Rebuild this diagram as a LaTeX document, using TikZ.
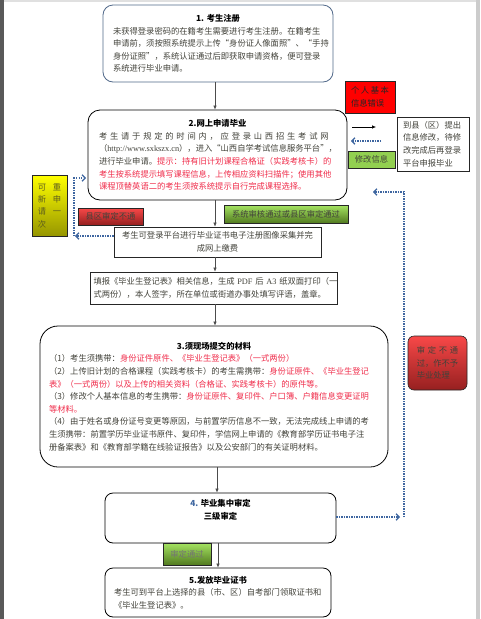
\documentclass[tikz,border=0pt]{standalone}
\usepackage{fontspec}
\setmainfont{Noto Sans CJK SC}
\newfontfamily\latinfont{Liberation Serif}
\usetikzlibrary{arrows.meta,shadows}
\definecolor{bodytext}{RGB}{66,66,58}
\definecolor{warn}{RGB}{240,45,75}
\definecolor{frameblue}{RGB}{82,106,138}
\definecolor{flowblue}{RGB}{62,102,160}
\definecolor{leaf}{RGB}{146,208,80}
\definecolor{leaflight}{RGB}{165,228,98}
\definecolor{leafdark}{RGB}{82,122,32}
\definecolor{redlight}{RGB}{248,72,72}
\definecolor{reddark}{RGB}{150,32,32}
\definecolor{yellowlight}{RGB}{255,255,0}
\definecolor{yellowdark}{RGB}{150,150,0}
\definecolor{olivetext}{RGB}{92,92,30}
\newcommand{\warntext}[1]{\textcolor{warn}{#1}}
\newcommand{\stagetitle}[2]{\makebox[#1][c]{\color{black}\bfseries #2}\\}

\begin{document}
\begin{tikzpicture}[
  x=1pt, y=-1pt,
  every node/.style={font=\fontsize{8.3}{12.6}\selectfont, text=bodytext},
  stage/.style={draw=black, rounded corners=10pt, line width=0.8pt, align=left, inner sep=0pt},
  plain/.style={draw=black!85, line width=0.7pt, inner sep=0pt, fill=white,
    drop shadow={shadow xshift=1pt, shadow yshift=-1pt, fill=black!45}},
  tag/.style={draw=black!85, line width=0.6pt, inner sep=0pt, align=left},
  greentag/.style={tag, top color=leaflight, bottom color=leafdark},
  redtag/.style={tag, top color=redlight, bottom color=reddark},
  arrow/.style={-{Latex[length=4pt,width=3.5pt]}, line width=0.6pt, draw=black!70},
  backflow/.style={-{Straight Barb[length=3pt,width=6.5pt]}, line width=1.3pt, draw=flowblue,
    dash pattern=on 1.2pt off 1.3pt}
]
\useasboundingbox (0,0) rectangle (480,619);
\fill[white] (0,0) rectangle (480,619);
\fill[black!65] (0,0) rectangle (4,619);
\fill[black!20] (476,0) rectangle (480,619);
\fill[black!12] (4,0) rectangle (476,2);

% main column
\node[stage, draw=frameblue, minimum width=230, minimum height=77, text width=210pt] (reg) at (218,43.5) {%
\stagetitle{210pt}{1.\ 考生注册}%
未获得登录密码的在籍考生需要进行考生注册。在籍考生\\
申请前，须按照系统提示上传“身份证人像面照”、“手持\\
身份证照”，系统认证通过后即获取申请资格，便可登录\\
系统进行毕业申请。};

\node[stage, rounded corners=12pt, minimum width=259, minimum height=90, text width=237pt] (apply) at (217.5,155) {%
\stagetitle{237pt}{2.网上申请毕业}%
\makebox[237pt][s]{考 生 请 于 规 定 的 时 间 内 ， 应 登 录 山 西 招 生 考 试 网}\\
（{\latinfont http://www.sxkszx.cn}），进入“山西自学考试信息服务平台”，\\
进行毕业申请。\warntext{提示：持有旧计划课程合格证（实践考核卡）的}\\
\warntext{考生按系统提示填写课程信息，上传相应资料扫描件；使用其他}\\
\warntext{课程顶替英语二的考生须按系统提示自行完成课程选择。}};

\node[plain, minimum width=207, minimum height=30, align=center] (pay) at (217.5,242) {%
考生可登录平台进行毕业证书电子注册图像采集并完\\成网上缴费};

\node[plain, minimum width=247, minimum height=32, text width=240pt, align=left] (fill) at (213.5,288) {%
填报《毕业生登记表》相关信息，生成~{\latinfont PDF}~后~{\latinfont A3}~纸双面打印（一\\
式两份），本人签字，所在单位或街道办事处填写评语，盖章。};

\node[stage, rounded corners=18pt, minimum width=348, minimum height=141, text width=330pt] (submit) at (214,396.5) {%
\stagetitle{330pt}{3.须现场提交的材料}%
（1）考生须携带：\warntext{身份证件原件、《毕业生登记表》（一式两份）}\\
（2）上传旧计划的合格课程（实践考核卡）的考生需携带：\warntext{身份证原件、《毕业生登记}\\
\warntext{表》（一式两份）以及上传的相关资料（合格证、实践考核卡）的原件等。}\\
（3）修改个人基本信息的考生携带：\warntext{身份证原件、复印件、户口簿、户籍信息变更证明}\\
\warntext{等材料。}\\
（4）由于姓名或身份证号变更等原因，与前置学历信息不一致，无法完成线上申请的考\\
生须携带：前置学历毕业证书原件、复印件，学信网上申请的《教育部学历证书电子注\\
册备案表》和《教育部学籍在线验证报告》以及公安部门的有关证明材料。};

\node[stage, rounded corners=8pt, minimum width=231, minimum height=50, align=center, font=\fontsize{8.3}{13}\selectfont\bfseries, text=black] (check) at (220.5,518) {%
\textcolor{flowblue}{4.} 毕业集中审定\\三级审定\\[4pt]};

\node[stage, rounded corners=8pt, minimum width=226, minimum height=49, text width=208pt] (issue) at (218,592.5) {%
\stagetitle{208pt}{5.发放毕业证书}%
考生可到平台上选择的县（市、区）自考部门领取证书和\\
《毕业生登记表》。};

% side notes
\node[tag, fill=red, minimum width=50, minimum height=32, text=black!85] (wrong) at (370,97) {%
\makebox[38pt][s]{个 人 基 本}\\信息错误};
\node[tag, fill=leaf, minimum width=47, minimum height=17, align=center] (fix) at (371.5,159.5) {修改信息};
\node[plain, line width=0.9pt, minimum width=72, minimum height=54, text width=60pt, align=left] (county) at (433,144) {%
到县（区）提出\\信息修改，待修\\改完成后再登录\\平台申报毕业};
\node[tag, top color=yellowlight, bottom color=yellowdark, minimum width=35, minimum height=61, text=olivetext, font=\fontsize{8.3}{12.4}\selectfont] (again) at (49.5,205.5) {%
可\hspace{6.7pt}重\\新\hspace{6.7pt}申\\请\hspace{6.7pt}一\\次};
\node[redtag, minimum width=65, minimum height=17, align=center] (reject) at (110.5,216.5) {县区审定不通};
\node[greentag, minimum width=124, minimum height=18, align=center] (passed) at (286,214) {系统审核通过或县区审定通过};
\node[greentag, minimum width=48, minimum height=22, align=center, text=black!55] (approved) at (187,554) {审定通过};
\node[redtag, rounded corners=6pt, minimum width=59, minimum height=54, text width=41.5pt] (refuse) at (437.5,363) {%
\makebox[41.5pt][s]{审 定 不 通}\\过，作不予\\毕业处理};

% connectors
\coordinate (spine) at (215,0);
\draw[arrow] (reg.south -| spine) -- (apply.north -| spine);
\draw[arrow] (apply.south -| spine) -- (pay.north -| spine);
\draw[arrow] (pay.south -| spine) -- (fill.north -| spine);
\draw[arrow] (fill.south -| spine) -- (submit.north -| spine);
\draw[arrow] ([xshift=2pt]submit.south -| spine) -- ([xshift=2pt]check.north -| spine);
\draw[arrow] (check.south -| issue.north) -- (issue.north);

\coordinate (fixout) at (352,127);
\coordinate (fixin) at (376,127);
\draw[arrow, draw=black] (fixout) -- (fixin);
\coordinate (fixback) at (381,141);
\coordinate (fixreturn) at (351,141);
\draw[backflow] (fixback) -- (fixreturn);

\coordinate (againlow) at (75,236);
\coordinate (againhigh) at (74,178);
\coordinate (againend) at (86,178);
\draw[backflow] (pay.west |- againlow) -- (againlow);
\draw[backflow] ([xshift=-1pt]againlow) -- (againhigh) -- (againend);

\coordinate (denylow) at (400,517);
\coordinate (denyhigh) at (404,192);
\coordinate (denyend) at (373,192);
\draw[backflow] (check.east |- denylow) -- (denylow);
\draw[backflow] (denyhigh |- denylow) -- (denyhigh) -- (denyend);
\end{tikzpicture}
\end{document}
